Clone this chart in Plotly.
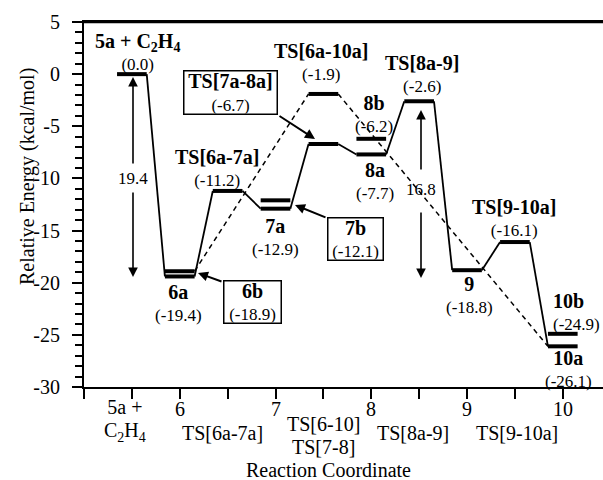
import plotly.graph_objects as go

# ---------------- data ----------------
species = ['5a + C2H4', '6a', '6b', 'TS[6a-7a]', '7a', '7b', 'TS[7a-8a]', 'TS[6a-10a]',
           '8a', '8b', 'TS[8a-9]', '9', 'TS[9-10a]', '10a', '10b']
display_names = ['5a + C<sub>2</sub>H<sub>4</sub>', '6a', '6b', 'TS[6a-7a]', '7a', '7b', 'TS[7a-8a]',
                 'TS[6a-10a]', '8a', '8b', 'TS[8a-9]', '9', 'TS[9-10a]', '10a', '10b']
coordinate = [1, 2, 2, 3, 4, 4, 5, 5, 6, 6, 7, 8, 9, 10, 10]
energy = [0.0, -19.4, -18.9, -11.2, -12.9, -12.1, -6.7, -1.9, -7.7, -6.2, -2.6, -18.8, -16.1, -26.1, -24.9]

main_path = ['5a + C2H4', '6a', 'TS[6a-7a]', '7a', 'TS[7a-8a]', '8a', 'TS[8a-9]', '9', 'TS[9-10a]', '10a']
alt_path = ['6b', 'TS[6a-10a]', '10a']
boxed_species = ['TS[7a-8a]', '6b', '7b']

barrier_values = [19.4, 16.8]

x_tick_vals = list(range(11))
x_tick_text = ['', '5a +<br>C<sub>2</sub>H<sub>4</sub>', '6', 'TS[6a-7a]', '7', 'TS[6-10]<br>TS[7-8]',
               '8', 'TS[8a-9]', '9', 'TS[9-10a]', '10']
y_tick_vals = [-30, -25, -20, -15, -10, -5, 0, 5]
y_tick_text = ['-30', '-25', '-20', '-15', '-10', '-5', '0', '5']

# ---------------- layout constants ----------------
W, H = 603, 480
ML, MR, MT, MB = 84, 0, 22, 93
PW, PH = W - ML - MR, H - MT - MB
XR = [0, 10.84]
YR = [-30, 5]
HW = 0.31          # half width of an energy level bar
FONT = 'Liberation Serif'


def px2x(px):
    return XR[0] + (px - ML) / PW * (XR[1] - XR[0])


def px2y(py):
    return YR[1] - (py - MT) / PH * (YR[1] - YR[0])


def px2paper_x(px):
    return (px - ML) / PW


def px2paper_y(py):
    return (MT + PH - py) / PH


idx = {s: i for i, s in enumerate(species)}

fig = go.Figure()

# energy levels
lx, ly = [], []
for c, e in zip(coordinate, energy):
    lx += [c - HW, c + HW, None]
    ly += [e, e, None]
fig.add_trace(go.Scatter(x=lx, y=ly, mode='lines', line=dict(color='black', width=4),
                         hoverinfo='skip', showlegend=False))


def connectors(path):
    cx, cy = [], []
    for a, b in zip(path[:-1], path[1:]):
        ia, ib = idx[a], idx[b]
        cx += [coordinate[ia] + HW, coordinate[ib] - HW, None]
        cy += [energy[ia], energy[ib], None]
    return cx, cy


mx, my = connectors(main_path)
fig.add_trace(go.Scatter(x=mx, y=my, mode='lines', line=dict(color='black', width=1.8),
                         hoverinfo='skip', showlegend=False))
ax_, ay_ = connectors(alt_path)
fig.add_trace(go.Scatter(x=ax_, y=ay_, mode='lines', line=dict(color='black', width=1.5, dash='5px,4px'),
                         hoverinfo='skip', showlegend=False))

annotations = []

# plain labels (name bold + value), pixel centres measured from reference
label_pos = {
    '5a + C2H4': (137, 51.5, 'center'),
    'TS[6a-10a]': (321, 61.5, 'center'),
    'TS[8a-9]': (422, 74, 'center'),
    '8b': (374, 114, 'center'),
    'TS[6a-7a]': (217, 168, 'center'),
    '7a': (275, 237, 'center'),
    '6a': (178, 303, 'center'),
    '8a': (375, 181, 'center'),
    'TS[9-10a]': (514, 217.5, 'center'),
    '9': (469, 295, 'center'),
    '10b': (551, 312, 'left'),
    '10a': (568, 369, 'center'),
}
for s, (px, py, al) in label_pos.items():
    i = idx[s]
    annotations.append(dict(
        x=px2x(px), y=px2y(py), xref='x', yref='y', showarrow=False,
        text="<span style='font-size:20px'><b>%s</b></span><br>(%.1f)" % (display_names[i], energy[i]),
        font=dict(family=FONT, size=17, color='black'), align=al,
        xanchor=al, yanchor='middle'))

# boxed labels with callout arrows
box_geom = {
    'TS[7a-8a]': ((183, 70, 278, 115), (278, 115), (315, 139)),
    '6b': ((223, 280, 282, 324), (223, 282), (198, 273)),
    '7b': ((327, 217, 384, 261), (327, 218), (295, 205)),
}
for s in boxed_species:
    (x0, y0, x1, y1), tail, tip = box_geom[s]
    i = idx[s]
    annotations.append(dict(
        x=px2x((x0 + x1) / 2), y=px2y((y0 + y1) / 2), xref='x', yref='y', showarrow=False,
        text="<span style='font-size:20px'><b>%s</b></span><br>(%.1f)" % (display_names[i], energy[i]),
        font=dict(family=FONT, size=17, color='black'), align='center',
        xanchor='center', yanchor='middle',
        width=x1 - x0 - 3, height=y1 - y0 - 3, bordercolor='black', borderwidth=1.5, borderpad=0,
        bgcolor='white'))
    annotations.append(dict(
        x=px2x(tip[0]), y=px2y(tip[1]), xref='x', yref='y', text='', showarrow=True,
        ax=tail[0] - tip[0], ay=tail[1] - tip[1], axref='pixel', ayref='pixel',
        arrowhead=2, arrowsize=1.0, arrowwidth=2, arrowcolor='black'))

# double-headed barrier arrows with value in the gap
barrier_geom = [
    (133, 77, 165, 191, 277, 178),
    (421, 110, 171, 211, 278, 189),
]
for val, (px, t_tip, t_tail, b_tail, b_tip, ty) in zip(barrier_values, barrier_geom):
    annotations.append(dict(x=px2x(px), y=px2y(t_tip), xref='x', yref='y', text='', showarrow=True,
                            ax=0, ay=t_tail - t_tip, arrowhead=2, arrowsize=1.2, arrowwidth=1.6,
                            arrowcolor='black'))
    annotations.append(dict(x=px2x(px), y=px2y(b_tip), xref='x', yref='y', text='', showarrow=True,
                            ax=0, ay=b_tail - b_tip, arrowhead=2, arrowsize=1.2, arrowwidth=1.6,
                            arrowcolor='black'))
    annotations.append(dict(x=px2x(px), y=px2y(ty), xref='x', yref='y', text='%.1f' % val,
                            showarrow=False, xanchor='center', yanchor='middle',
                            font=dict(family=FONT, size=17, color='black')))

# x tick labels (two staggered rows)
tick_label_geom = [None, (-7, 420), (0, 409), (-5, 433), (0, 409), (0, 435.5),
                   (0, 409), (-6, 433), (0, 409), (2, 433), (0, 409)]
for v, t, g in zip(x_tick_vals, x_tick_text, tick_label_geom):
    if not t:
        continue
    dx, py = g
    lines = t.split('<br>')
    txt = '<br>'.join("<span style='font-size:20px'>%s</span>" % ln for ln in lines)
    annotations.append(dict(x=v, y=px2paper_y(py), xref='x', yref='paper', text=txt, showarrow=False,
                            xshift=dx, xanchor='center', yanchor='middle',
                            font=dict(family=FONT, size=18, color='black')))

# axis titles
annotations.append(dict(x=px2paper_x(328), y=px2paper_y(470), xref='paper', yref='paper',
                        text='Reaction Coordinate', showarrow=False, xanchor='center', yanchor='middle',
                        font=dict(family=FONT, size=20, color='black')))
annotations.append(dict(x=px2paper_x(27), y=px2paper_y(177), xref='paper', yref='paper',
                        text='Relative Energy (kcal/mol)', showarrow=False, textangle=-90,
                        xanchor='center', yanchor='middle',
                        font=dict(family=FONT, size=20, color='black')))

fig.update_layout(
    width=W, height=H,
    margin=dict(l=ML, r=MR, t=MT, b=MB, autoexpand=False),
    plot_bgcolor='white', paper_bgcolor='white',
    font=dict(family=FONT, size=20, color='black'),
    showlegend=False,
    annotations=annotations,
    shapes=[dict(type='line', xref='paper', yref='paper', x0=0, x1=1, y0=1, y1=1,
                 line=dict(color='black', width=2.5))],
    xaxis=dict(range=XR, tickmode='array', tickvals=x_tick_vals, ticktext=['' for _ in x_tick_vals],
               ticks='outside', ticklen=10, tickwidth=2, tickcolor='black',
               showline=True, linewidth=2, linecolor='black', mirror=True,
               showgrid=False, zeroline=False, fixedrange=True),
    yaxis=dict(range=YR, tickmode='array', tickvals=y_tick_vals, ticktext=y_tick_text,
               ticks='outside', ticklen=10, tickwidth=2, tickcolor='black',
               minor=dict(dtick=1, tick0=0, ticks='outside', ticklen=7, tickwidth=1.5, tickcolor='black',
                          showgrid=False),
               ticklabelstandoff=8,
               tickfont=dict(family=FONT, size=20, color='black'),
               showline=True, linewidth=2, linecolor='black',
               showgrid=False, zeroline=False, fixedrange=True),
)

fig.write_html('out.html', config={'displayModeBar': False},
               post_script="document.body.style.margin='0';document.body.style.overflow='hidden';")
